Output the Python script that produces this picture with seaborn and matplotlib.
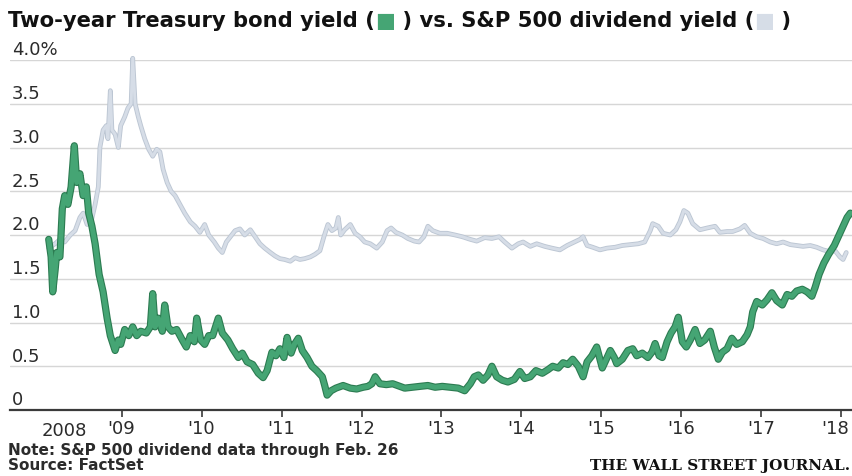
import matplotlib
matplotlib.use("Agg")
import matplotlib.pyplot as plt
import matplotlib.patheffects as pe
import matplotlib.transforms as mtransforms
from matplotlib.text import Annotation
import pandas as pd
import seaborn as sns

# ---------------- data ----------------
treasury_dates = [
    2008.09, 2008.12, 2008.14, 2008.17, 2008.19, 2008.23, 2008.26, 2008.29, 2008.33, 2008.37,
    2008.41, 2008.44, 2008.48, 2008.52, 2008.56, 2008.59, 2008.63, 2008.67, 2008.72, 2008.77,
    2008.82, 2008.86, 2008.92, 2008.96, 2008.99, 2009.04, 2009.09, 2009.14, 2009.19, 2009.24,
    2009.31, 2009.36, 2009.39, 2009.42, 2009.46, 2009.51, 2009.54, 2009.58, 2009.63, 2009.69,
    2009.76, 2009.81, 2009.86, 2009.91, 2009.94, 2009.99, 2010.04, 2010.09, 2010.14, 2010.21,
    2010.26, 2010.33, 2010.39, 2010.46, 2010.51, 2010.57, 2010.64, 2010.71, 2010.77, 2010.82,
    2010.88, 2010.93, 2010.98, 2011.03, 2011.07, 2011.12, 2011.16, 2011.21, 2011.26, 2011.32,
    2011.38, 2011.44, 2011.51, 2011.54, 2011.57, 2011.62, 2011.68, 2011.77, 2011.86, 2011.94,
    2012.02, 2012.08, 2012.13, 2012.17, 2012.23, 2012.31, 2012.39, 2012.48, 2012.54, 2012.63,
    2012.73, 2012.83, 2012.92, 2013.01, 2013.11, 2013.21, 2013.29, 2013.36, 2013.41, 2013.46,
    2013.52, 2013.58, 2013.63, 2013.69, 2013.76, 2013.83, 2013.91, 2013.98, 2014.04, 2014.11,
    2014.18, 2014.26, 2014.33, 2014.39, 2014.46, 2014.52, 2014.58, 2014.64, 2014.71, 2014.77,
    2014.82, 2014.88, 2014.94, 2015.01, 2015.07, 2015.11, 2015.16, 2015.19, 2015.26, 2015.33,
    2015.39, 2015.44, 2015.51, 2015.58, 2015.63, 2015.67, 2015.72, 2015.76, 2015.82, 2015.87,
    2015.92, 2015.96, 2016.01, 2016.06, 2016.11, 2016.17, 2016.23, 2016.29, 2016.36, 2016.41,
    2016.46, 2016.51, 2016.57, 2016.63, 2016.69, 2016.76, 2016.82, 2016.86, 2016.89, 2016.94,
    2017.01, 2017.07, 2017.13, 2017.19, 2017.26, 2017.32, 2017.38, 2017.44, 2017.51, 2017.57,
    2017.63, 2017.67, 2017.72, 2017.78, 2017.84, 2017.91, 2017.97, 2018.02, 2018.07, 2018.11,
]
treasury_yield = [
    1.95, 1.75, 1.35, 1.60, 1.80, 1.75, 2.30, 2.45, 2.35, 2.55,
    3.02, 2.60, 2.70, 2.45, 2.55, 2.25, 2.10, 1.90, 1.55, 1.35,
    1.05, 0.85, 0.68, 0.80, 0.75, 0.92, 0.85, 0.95, 0.85, 0.90,
    0.88, 0.95, 1.33, 0.95, 1.05, 0.90, 1.20, 0.95, 0.90, 0.92,
    0.80, 0.72, 0.85, 0.78, 1.05, 0.80, 0.75, 0.85, 0.85, 1.05,
    0.88, 0.80, 0.70, 0.60, 0.65, 0.55, 0.52, 0.42, 0.37, 0.45,
    0.66, 0.62, 0.70, 0.60, 0.83, 0.65, 0.75, 0.82, 0.68, 0.60,
    0.50, 0.45, 0.38, 0.28, 0.17, 0.22, 0.25, 0.28, 0.25, 0.24,
    0.26, 0.27, 0.30, 0.38, 0.30, 0.29, 0.30, 0.27, 0.25, 0.26,
    0.27, 0.28, 0.26, 0.27, 0.26, 0.25, 0.22, 0.30, 0.38, 0.40,
    0.34, 0.40, 0.50, 0.38, 0.34, 0.32, 0.35, 0.44, 0.36, 0.38,
    0.45, 0.42, 0.46, 0.50, 0.48, 0.54, 0.52, 0.58, 0.50, 0.38,
    0.55, 0.62, 0.72, 0.48, 0.60, 0.68, 0.60, 0.53, 0.58, 0.68,
    0.70, 0.62, 0.65, 0.60, 0.66, 0.76, 0.62, 0.60, 0.78, 0.88,
    0.95, 1.06, 0.78, 0.72, 0.80, 0.92, 0.76, 0.80, 0.90, 0.72,
    0.58, 0.66, 0.70, 0.82, 0.75, 0.78, 0.86, 0.95, 1.12, 1.24,
    1.20, 1.26, 1.34, 1.25, 1.20, 1.32, 1.30, 1.36, 1.38, 1.35,
    1.30, 1.40, 1.55, 1.68, 1.78, 1.88, 2.00, 2.10, 2.20, 2.25,
]

dividend_dates = [
    2008.09, 2008.17, 2008.23, 2008.29, 2008.36, 2008.42, 2008.48, 2008.52, 2008.57, 2008.62,
    2008.67, 2008.71, 2008.73, 2008.77, 2008.81, 2008.83, 2008.86, 2008.88, 2008.92, 2008.96,
    2008.99, 2009.04, 2009.08, 2009.12, 2009.14, 2009.17, 2009.21, 2009.24, 2009.29, 2009.34,
    2009.39, 2009.44, 2009.48, 2009.52, 2009.57, 2009.62, 2009.67, 2009.73, 2009.79, 2009.86,
    2009.92, 2009.98, 2010.04, 2010.09, 2010.16, 2010.21, 2010.26, 2010.31, 2010.36, 2010.42,
    2010.48, 2010.54, 2010.61, 2010.67, 2010.73, 2010.79, 2010.86, 2010.92, 2010.98, 2011.04,
    2011.11, 2011.17, 2011.23, 2011.29, 2011.36, 2011.42, 2011.48, 2011.53, 2011.58, 2011.63,
    2011.68, 2011.71, 2011.74, 2011.79, 2011.86, 2011.92, 2011.98, 2012.04, 2012.11, 2012.19,
    2012.26, 2012.32, 2012.37, 2012.43, 2012.51, 2012.58, 2012.66, 2012.72, 2012.78, 2012.83,
    2012.89, 2012.98, 2013.07, 2013.17, 2013.26, 2013.36, 2013.44, 2013.54, 2013.63, 2013.72,
    2013.79, 2013.88, 2013.96, 2014.02, 2014.11, 2014.19, 2014.29, 2014.38, 2014.48, 2014.57,
    2014.66, 2014.73, 2014.77, 2014.82, 2014.89, 2014.98, 2015.07, 2015.17, 2015.26, 2015.36,
    2015.46, 2015.54, 2015.61, 2015.64, 2015.71, 2015.77, 2015.86, 2015.93, 2015.98, 2016.03,
    2016.08, 2016.14, 2016.23, 2016.32, 2016.42, 2016.48, 2016.57, 2016.64, 2016.73, 2016.79,
    2016.86, 2016.94, 2017.02, 2017.11, 2017.19, 2017.27, 2017.36, 2017.44, 2017.52, 2017.61,
    2017.69, 2017.77, 2017.86, 2017.92, 2017.98, 2018.02, 2018.06,
]
dividend_yield = [
    1.85, 1.90, 1.95, 1.92, 2.00, 2.05, 2.20, 2.25, 2.12, 2.15,
    2.35, 2.55, 3.00, 3.20, 3.25, 3.10, 3.65, 3.20, 3.15, 3.00,
    3.25, 3.35, 3.45, 3.50, 4.02, 3.50, 3.35, 3.25, 3.10, 2.98,
    2.90, 2.98, 2.95, 2.75, 2.60, 2.50, 2.45, 2.35, 2.25, 2.15,
    2.10, 2.03, 2.12, 2.00, 1.92, 1.85, 1.80, 1.92, 1.98, 2.05,
    2.07, 2.00, 2.06, 1.98, 1.90, 1.85, 1.80, 1.76, 1.73, 1.72,
    1.70, 1.74, 1.72, 1.73, 1.75, 1.78, 1.82, 1.98, 2.12, 2.05,
    2.08, 2.20, 2.00, 2.06, 2.12, 2.02, 1.98, 1.92, 1.90, 1.85,
    1.92, 2.05, 2.08, 2.03, 2.00, 1.96, 1.93, 1.92, 1.98, 2.10,
    2.05, 2.02, 2.02, 2.00, 1.98, 1.95, 1.93, 1.97, 1.96, 1.98,
    1.92, 1.85, 1.90, 1.92, 1.87, 1.90, 1.87, 1.85, 1.83, 1.88,
    1.92, 1.95, 1.98, 1.88, 1.86, 1.83, 1.85, 1.86, 1.88, 1.89,
    1.90, 1.92, 2.05, 2.13, 2.10, 2.02, 2.00, 2.06, 2.15, 2.28,
    2.25, 2.13, 2.06, 2.08, 2.10, 2.03, 2.04, 2.04, 2.07, 2.11,
    2.02, 1.98, 1.96, 1.92, 1.90, 1.92, 1.89, 1.88, 1.87, 1.88,
    1.86, 1.83, 1.81, 1.82, 1.75, 1.72, 1.80,
]

year_ticks = [2009, 2010, 2011, 2012, 2013, 2014, 2015, 2016, 2017, 2018]
year_labels = ["'09", "'10", "'11", "'12", "'13", "'14", "'15", "'16", "'17", "'18"]
first_year_pos = 2008.28
first_year_label = "2008"
y_ticks = [0, 0.5, 1.0, 1.5, 2.0, 2.5, 3.0, 3.5, 4.0]
y_labels = ["0", "0.5", "1.0", "1.5", "2.0", "2.5", "3.0", "3.5", "4.0%"]

title_parts = ["Two-year Treasury bond yield (", "\u25A0", " ) vs. S&P 500 dividend yield (", "\u25A0", " )"]
note_text = "Note: S&P 500 dividend data through Feb. 26"
source_text = "Source: FactSet"
brand_text = "THE WALL STREET JOURNAL."

GREEN = "#45a574"
GREEN_EDGE = "#2c7b51"
GRAY = "#d6dde7"
GRAY_EDGE = "#bcc6d3"
TEXT = "#2b2b2b"

# ---------------- figure ----------------
sns.set_theme(style="white")
plt.rcParams["font.family"] = ["DejaVu Sans"]

fig = plt.figure(figsize=(8.53, 4.76), dpi=100)
ax = fig.add_axes([10 / 853, 66 / 476, 843 / 853, 350 / 476])

df_div = pd.DataFrame({"date": dividend_dates, "yield": dividend_yield})
df_tr = pd.DataFrame({"date": treasury_dates, "yield": treasury_yield})

sns.lineplot(data=df_div, x="date", y="yield", ax=ax, estimator=None, sort=False,
             color=GRAY, lw=2.1, clip_on=False, zorder=3,
             path_effects=[pe.Stroke(linewidth=3.4, foreground=GRAY_EDGE), pe.Normal()])
sns.lineplot(data=df_tr, x="date", y="yield", ax=ax, estimator=None, sort=False,
             color=GREEN, lw=3.6, clip_on=False, zorder=4,
             path_effects=[pe.Stroke(linewidth=5.2, foreground=GREEN_EDGE), pe.Normal()])

ax.set_xlim(2007.606, 2018.144)
ax.set_ylim(0, 4.0)
ax.set_xlabel("")
ax.set_ylabel("")

# grid
ax.set_yticks(y_ticks)
ax.set_yticklabels([])
ax.tick_params(axis="y", length=0)
ax.yaxis.grid(True, color="#d6d6d6", lw=1.0)
ax.xaxis.grid(False)
ax.set_axisbelow(True)

for s in ["top", "right", "left"]:
    ax.spines[s].set_visible(False)
ax.spines["bottom"].set_color("#3a3a3a")
ax.spines["bottom"].set_linewidth(1.6)
ax.spines["bottom"].set_zorder(5)

# y labels above gridlines
for v, lab in zip(y_ticks, y_labels):
    ax.annotate(lab, xy=(0, v), xycoords=("axes fraction", "data"),
                xytext=(1.5, 0.5), textcoords="offset points",
                ha="left", va="bottom", fontsize=13, color=TEXT)

# x ticks
ax.set_xticks(year_ticks)
ax.set_xticklabels(year_labels)
ax.tick_params(axis="x", direction="out", length=5, width=1.2, color="#3a3a3a",
               labelsize=13, labelcolor=TEXT, pad=2.5, bottom=True)
last = ax.get_xticklabels()[-1]
last.set_transform(last.get_transform() + mtransforms.ScaledTranslation(-6 / 100, 0, fig.dpi_scale_trans))
ax.annotate(first_year_label, xy=(first_year_pos, 0), xycoords="data",
            xytext=(0, -8.5), textcoords="offset points",
            ha="center", va="top", fontsize=13, color=TEXT)

# title: pieces chained one after another
colors = ["#111111", GREEN, "#111111", GRAY, "#111111"]
prev = fig.text(8 / 853, 1 - 31 / 476, title_parts[0], ha="left", va="bottom",
                fontsize=15.2, fontweight="bold", color=colors[0])
for part, col in zip(title_parts[1:], colors[1:]):
    prev = fig.add_artist(Annotation(part, xy=(1, 0), xycoords=prev, ha="left", va="bottom",
                                     fontsize=15.2, fontweight="bold", color=col))

fig.text(8 / 853, 1 - 451 / 476, note_text, ha="left", va="center",
         fontsize=11, fontweight="bold", color=TEXT)
fig.text(8 / 853, 1 - 466 / 476, source_text, ha="left", va="center",
         fontsize=11, fontweight="bold", color=TEXT)
fig.text(850 / 853, 1 - 466 / 476, brand_text, ha="right", va="center",
         fontsize=11, fontweight="bold", color="#111111", family="DejaVu Serif")

fig.savefig("out.png", dpi=100, facecolor="white")
